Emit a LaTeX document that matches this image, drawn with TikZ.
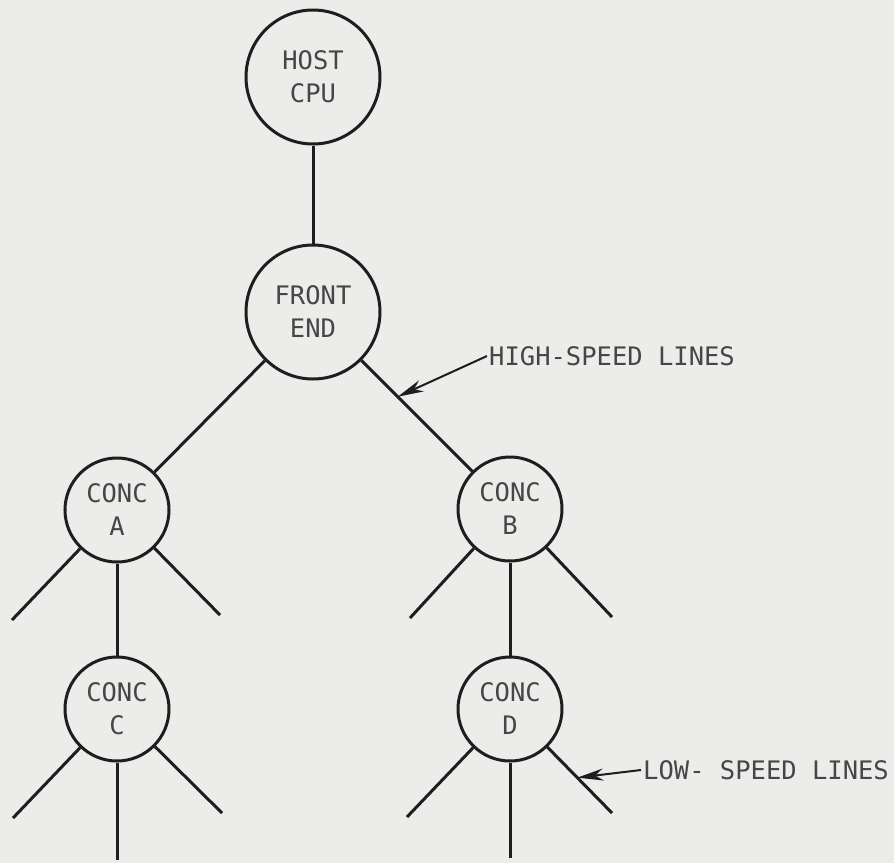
\documentclass[tikz,border=0pt]{standalone}
\usepackage{fontspec}
\newfontfamily\letterfont{DejaVu Sans Mono}
\usetikzlibrary{positioning, arrows.meta, calc}
\definecolor{paper}{RGB}{236,236,234}
\definecolor{ink}{RGB}{30,30,30}
\definecolor{lettering}{RGB}{70,70,70}
\tikzset{
	>={Stealth[length=26pt,width=12pt,inset=8pt]},
	on grid,
	every node/.style={font=\letterfont\fontsize{25.5}{33}\selectfont, text=lettering, align=center},
	hub/.style={circle, draw=ink, line width=3pt, minimum size=134pt, inner sep=0pt},
	conc/.style={hub, minimum size=104pt},
	link/.style={draw=ink, line width=3pt},
	tag/.style={anchor=west, inner sep=2pt},
	callout/.style={->, draw=ink, line width=2pt}
}

\begin{document}
\begin{tikzpicture}
	[x=1pt, y=1pt]
	\fill[paper] (0,0) rectangle (894,-863);
	\useasboundingbox (0,0) rectangle (894,-863);

	\node (host) [hub] at (313,-77) {HOST\\CPU};
	\node (fe) [hub, below=235pt of host] {FRONT\\END};
	\node (ca) [conc, below left=198pt and 196pt of fe] {CONC\\A};
	\node (cb) [conc, below right=197pt and 197pt of fe] {CONC\\B};
	\node (cc) [conc, below=199pt of ca] {CONC\\C};
	\node (cd) [conc, below=200pt of cb] {CONC\\D};

	% loose ends of the terminal lines
	\path (ca) ++(-105,-110) coordinate (ca-sw) (ca) ++(103,-105) coordinate (ca-se);
	\path (cb) ++(-100,-109) coordinate (cb-sw) (cb) ++(102,-108) coordinate (cb-se);
	\path (cc) ++(-104,-109) coordinate (cc-sw) (cc) ++(105,-104) coordinate (cc-se)
		(cc) ++(0,-151) coordinate (cc-s);
	\path (cd) ++(-103,-108) coordinate (cd-sw) (cd) ++(102,-104) coordinate (cd-se)
		(cd) ++(0,-149) coordinate (cd-s);

	\path[link]
	(host) edge (fe)
	(fe) edge (ca)
	(fe) edge (cb)
	(ca) edge (cc)
	(cb) edge (cd)
	(ca) edge (ca-sw)
	(ca) edge (ca-se)
	(cb) edge (cb-sw)
	(cb) edge (cb-se)
	(cc) edge (cc-sw)
	(cc) edge (cc-se)
	(cc) edge (cc-s)
	(cd) edge (cd-sw)
	(cd) edge (cd-se)
	(cd) edge (cd-s)
	;

	% labels
	\coordinate (hs-tip) at ($(fe)!0.43!(cb)$);
	\coordinate (ls-tip) at ($(cd)!0.66!(cd-se)$);
	\node (hs) [tag] at (487,-356) {HIGH-SPEED LINES};
	\node (ls) [tag] at (641,-770) {LOW- SPEED LINES};
	\draw[callout] (hs.west) -- (hs-tip);
	\draw[callout] (ls.west) -- (ls-tip);
\end{tikzpicture}
\end{document}
